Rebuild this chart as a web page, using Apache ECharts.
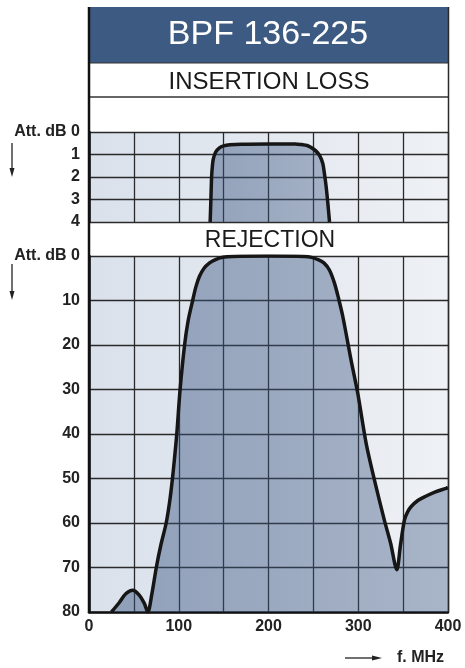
<!DOCTYPE html>
<html>
<head>
<meta charset="utf-8">
<script src="https://cdn.jsdelivr.net/npm/echarts@6/dist/echarts.min.js"></script>
<style>
  html, body { margin: 0; padding: 0; background: #fff; }
  #chart { width: 465px; height: 668px; }
</style>
</head>
<body>
<div id="chart"></div>
<script>
// insertion loss curve (MHz, dB)
var insertionFreq = [135, 135.8, 136.6, 137.5, 138.5, 141, 145, 150, 157, 170, 200, 230, 237, 243, 248, 253, 257, 260.5, 262.5, 264.3, 266.2, 268];
var insertionLoss = [4, 3, 2, 1.5, 1.2, 0.9, 0.72, 0.62, 0.57, 0.54, 0.53, 0.53, 0.56, 0.6, 0.7, 0.85, 1.05, 1.4, 1.9, 2.45, 3.2, 4];

// rejection curve (MHz, dB)
var rejectionFreq = [25, 34, 41, 48.8, 56, 61.5, 65.5, 70, 75, 80, 86, 90, 93, 95.5, 97.8, 101.5, 106.5, 110.5, 115.5, 119, 123, 128, 134, 141, 149, 160, 200, 240, 248, 255, 262, 268, 273.5, 278, 282.8, 292, 299.5, 308.8, 318, 329, 336, 343, 347, 351.5, 355, 359, 366, 374, 386, 398, 400];
var rejectionAtt = [80, 77.8, 75.9, 75.1, 76.2, 78, 80, 76, 70, 65, 60, 55, 50, 45, 40, 30, 20, 14.5, 10, 7, 4.6, 2.8, 1.6, 0.8, 0.3, 0.1, 0, 0.1, 0.3, 0.8, 1.6, 3.2, 6.1, 9.5, 13.6, 23.4, 30.9, 42.1, 50.3, 59.3, 64.5, 70.5, 65, 59.3, 57.5, 56.3, 55, 54.1, 53, 52.2, 52];

var xTickLabels = [0, 100, 200, 300, 400];
var insertionTicks = [0, 1, 2, 3, 4];
var rejectionTicks = [0, 10, 20, 30, 40, 50, 60, 70, 80];

var FONT = '"Liberation Sans", Arial, sans-serif';

function pairs(xs, ys) {
    return xs.map(function (x, i) { return [x, ys[i]]; });
}

var plotBg = {
    type: 'linear', x: 0, y: 0, x2: 1, y2: 0,
    colorStops: [{ offset: 0, color: '#dae1eb' }, { offset: 1, color: '#eef1f5' }]
};
var fillColor = {
    type: 'linear', x: 0, y: 0, x2: 1, y2: 0,
    colorStops: [{ offset: 0, color: 'rgba(55,82,126,0.46)' }, { offset: 1, color: 'rgba(55,82,126,0.38)' }]
};

var gridLine = { show: true, lineStyle: { color: '#2a2a2a', width: 1.3 } };
var yLabel = {
    fontFamily: FONT, fontSize: 16, fontWeight: 'bold', color: '#222', margin: 9,
    formatter: function (v) { return v === 0 ? 'Att. dB 0' : String(v); }
};

var myChart = echarts.init(document.getElementById('chart'));
option = {
    animation: false,
    backgroundColor: '#fff',
    grid: [
        { left: 89, right: 17, top: 132, height: 90, show: true, backgroundColor: plotBg, borderWidth: 0 },
        { left: 89, right: 17, top: 256, height: 356, show: true, backgroundColor: plotBg, borderWidth: 0 }
    ],
    xAxis: [
        {
            gridIndex: 0, type: 'value', min: 0, max: 400, interval: 50,
            axisLine: { show: false }, axisTick: { show: false }, axisLabel: { show: false },
            splitLine: gridLine
        },
        {
            gridIndex: 1, type: 'value', min: 0, max: 400, interval: 50,
            axisLine: { show: true, onZero: false, lineStyle: { color: '#111', width: 2.5 } },
            axisTick: { show: false },
            axisLabel: {
                fontFamily: FONT, fontSize: 16, fontWeight: 'bold', color: '#222', margin: 7,
                formatter: function (v) { return xTickLabels.indexOf(v) >= 0 ? String(v) : ''; }
            },
            splitLine: gridLine
        }
    ],
    yAxis: [
        {
            gridIndex: 0, type: 'value', min: insertionTicks[0], max: insertionTicks[insertionTicks.length - 1], interval: 1, inverse: true,
            axisLine: { show: true, lineStyle: { color: '#111', width: 2.5 } },
            axisTick: { show: false }, axisLabel: yLabel, splitLine: gridLine
        },
        {
            gridIndex: 1, type: 'value', min: rejectionTicks[0], max: rejectionTicks[rejectionTicks.length - 1], interval: 10, inverse: true,
            axisLine: { show: true, lineStyle: { color: '#111', width: 2.5 } },
            axisTick: { show: false }, axisLabel: yLabel, splitLine: gridLine
        }
    ],
    series: [
        {
            name: 'INSERTION LOSS', type: 'line', xAxisIndex: 0, yAxisIndex: 0,
            data: pairs(insertionFreq, insertionLoss),
            smooth: 0.3, showSymbol: false,
            lineStyle: { color: '#161616', width: 3.5 },
            areaStyle: { origin: 'end', color: fillColor, opacity: 1 }
        },
        {
            name: 'REJECTION', type: 'line', xAxisIndex: 1, yAxisIndex: 1,
            data: pairs(rejectionFreq, rejectionAtt),
            smooth: 0.3, showSymbol: false,
            lineStyle: { color: '#161616', width: 3.5 },
            areaStyle: { origin: 'end', color: fillColor, opacity: 1 }
        }
    ],
    graphic: {
        elements: [
            // banner
            { type: 'rect', shape: { x: 89, y: 7, width: 360, height: 56 }, style: { fill: '#3d5a83' }, z: 50 },
            { type: 'text', x: 268, y: 35, z: 51,
              style: { text: 'BPF 136-225', fill: '#fff', font: '34px ' + FONT, textAlign: 'center', textVerticalAlign: 'middle', align: 'center', verticalAlign: 'middle' } },
            { type: 'text', x: 269, y: 82, z: 51,
              style: { text: 'INSERTION LOSS', fill: '#1a1a1a', font: '24px ' + FONT, textAlign: 'center', textVerticalAlign: 'middle', align: 'center', verticalAlign: 'middle' } },
            { type: 'text', x: 270, y: 241, z: 51,
              style: { text: 'REJECTION', fill: '#1a1a1a', font: '23px ' + FONT, textAlign: 'center', textVerticalAlign: 'middle', align: 'center', verticalAlign: 'middle' } },
            // frame
            { type: 'line', shape: { x1: 89, y1: 63, x2: 449, y2: 63 }, style: { stroke: '#333', lineWidth: 1.2 }, z: 50 },
            { type: 'line', shape: { x1: 89, y1: 97, x2: 449, y2: 97 }, style: { stroke: '#333', lineWidth: 1.5 }, z: 50 },
            { type: 'line', shape: { x1: 89, y1: 7, x2: 89, y2: 613 }, style: { stroke: '#111', lineWidth: 2.5 }, z: 50 },
            { type: 'line', shape: { x1: 448.5, y1: 7, x2: 448.5, y2: 612 }, style: { stroke: '#2a2a2a', lineWidth: 1.5 }, z: 50 },
            // down arrows next to Att. dB
            { type: 'line', shape: { x1: 12, y1: 143, x2: 12, y2: 170 }, style: { stroke: '#222', lineWidth: 1.3 }, z: 50 },
            { type: 'polygon', shape: { points: [[9.5, 168], [14.5, 168], [12, 177]] }, style: { fill: '#222' }, z: 50 },
            { type: 'line', shape: { x1: 12, y1: 264, x2: 12, y2: 293 }, style: { stroke: '#222', lineWidth: 1.3 }, z: 50 },
            { type: 'polygon', shape: { points: [[9.5, 291], [14.5, 291], [12, 300]] }, style: { fill: '#222' }, z: 50 },
            // f. MHz
            { type: 'line', shape: { x1: 345, y1: 658, x2: 374, y2: 658 }, style: { stroke: '#222', lineWidth: 1.3 }, z: 50 },
            { type: 'polygon', shape: { points: [[372, 655.5], [372, 660.5], [382, 658]] }, style: { fill: '#222' }, z: 50 },
            { type: 'text', x: 397, y: 658, z: 51,
              style: { text: 'f. MHz', fill: '#222', font: 'bold 16px ' + FONT, textAlign: 'left', textVerticalAlign: 'middle', align: 'left', verticalAlign: 'middle' } }
        ]
    }
};
myChart.setOption(option);
</script>
</body>
</html>
